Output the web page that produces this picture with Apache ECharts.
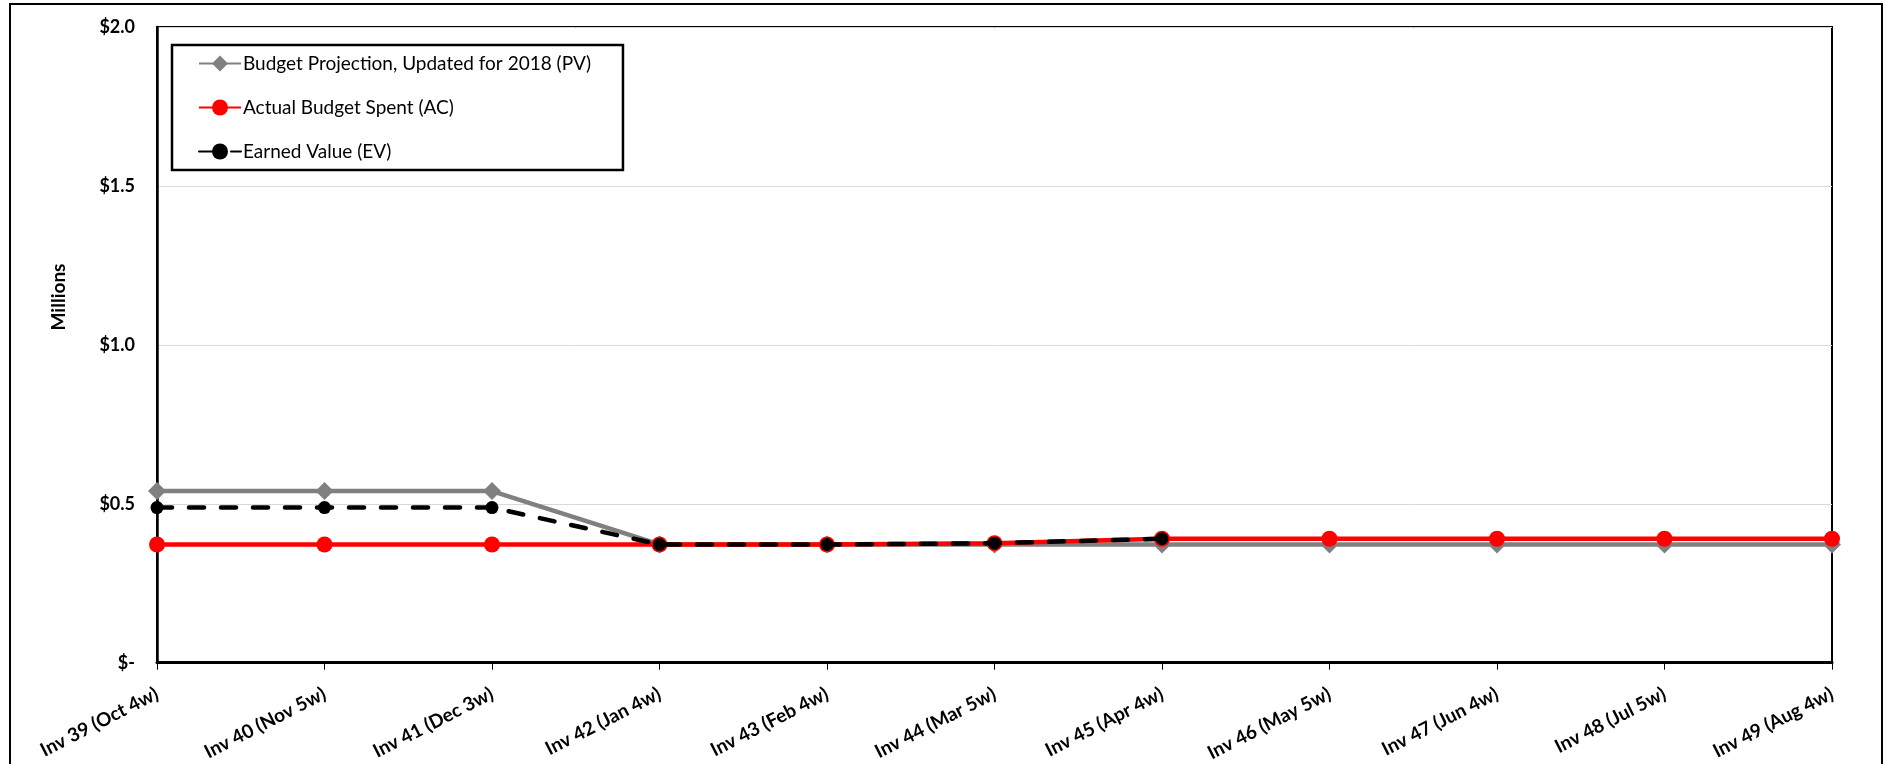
<!DOCTYPE html>
<html><head><meta charset="utf-8">
<script src="https://cdn.jsdelivr.net/npm/echarts@6/dist/echarts.min.js"></script>
<style>html,body{margin:0;padding:0;background:#fff}#c{width:1889px;height:764px}</style>
</head><body><div id="c"></div>
<script>
const categories = ["Inv 39 (Oct 4w)","Inv 40 (Nov 5w)","Inv 41 (Dec 3w)","Inv 42 (Jan 4w)","Inv 43 (Feb 4w)","Inv 44 (Mar 5w)","Inv 45 (Apr 4w)","Inv 46 (May 5w)","Inv 47 (Jun 4w)","Inv 48 (Jul 5w)","Inv 49 (Aug 4w)"];
const pvValues = [0.54,0.54,0.54,0.372,0.372,0.372,0.372,0.372,0.372,0.372,0.372];
const acValues = [0.372,0.372,0.372,0.372,0.372,0.376,0.39,0.39,0.39,0.39,0.39];
const evValues = [0.488,0.488,0.488,0.372,0.372,0.376,0.39,null,null,null,null];
const seriesNames = ["Budget Projection, Updated for 2018 (PV)","Actual Budget Spent (AC)","Earned Value (EV)"];
const yTickLabels = {"0":"$-","0.5":"$0.5","1":"$1.0","1.5":"$1.5","2":"$2.0"};
const yAxisTitle = "Millions";

const FONT = 'Lato, "Open Sans", sans-serif';
const chart = echarts.init(document.getElementById('c'), null, {renderer:'canvas'});
chart.setOption({
  animation:false,
  backgroundColor:'#fff',
  textStyle:{fontFamily:FONT},
  graphic:[
    {type:'rect',shape:{x:10,y:4,width:1872,height:820},style:{fill:'none',stroke:'#000',lineWidth:2},silent:true,z:-1},
    {type:'text',x:59,y:297,rotation:Math.PI/2,silent:true,
     style:{text:yAxisTitle,fontFamily:FONT,fontWeight:'bold',fontSize:19,fill:'#000',align:'center',verticalAlign:'middle'}}
  ],
  grid:{left:157,right:57,top:27,bottom:100,show:true,borderColor:'#000',borderWidth:2,backgroundColor:'transparent'},
  legend:{
    orient:'vertical',left:172,top:45,
    padding:[9,32,9,26],itemGap:25,itemWidth:42,itemHeight:20,
    borderColor:'#000',borderWidth:2.5,backgroundColor:'#fff',
    textStyle:{fontFamily:FONT,fontSize:19,color:'#000',padding:[0,0,0,-3]},
    data:seriesNames
  },
  xAxis:{
    type:'category',data:categories,boundaryGap:false,
    axisLine:{lineStyle:{color:'#000',width:3}},
    axisTick:{show:true,alignWithLabel:true,length:7,lineStyle:{color:'#000',width:1}},
    axisLabel:{rotate:27,fontFamily:FONT,fontWeight:'bold',fontSize:19,color:'#000',margin:30,interval:0},
    splitLine:{show:false}
  },
  yAxis:{
    type:'value',min:0,max:2,interval:0.5,
    axisLine:{show:true,lineStyle:{color:'#000',width:2.5}},
    axisTick:{show:false},
    axisLabel:{fontFamily:FONT,fontWeight:'bold',fontSize:18,color:'#000',margin:22,
      formatter:v=>yTickLabels[String(v)]},
    splitLine:{show:true,lineStyle:{color:'#d9d9d9',width:1}}
  },
  series:[
    {name:seriesNames[0],type:'line',data:pvValues,symbol:'diamond',symbolSize:18,
     lineStyle:{color:'#808080',width:4.5},itemStyle:{color:'#808080'},z:2},
    {name:seriesNames[1],type:'line',data:acValues,symbol:'circle',symbolSize:16,
     lineStyle:{color:'#ff0000',width:4.5},itemStyle:{color:'#ff0000'},z:3},
    {name:seriesNames[2],type:'line',data:evValues,symbol:'circle',symbolSize:13,connectNulls:false,
     lineStyle:{color:'#000',width:4.5,type:[15,17],cap:'round'},itemStyle:{color:'#000'},z:4}
  ]
});
</script></body></html>
